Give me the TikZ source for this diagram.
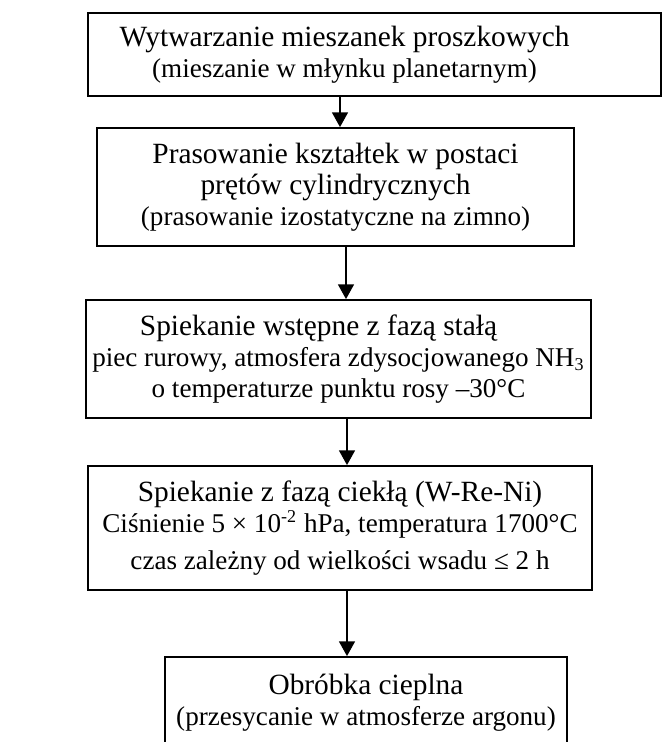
\documentclass[tikz,border=0pt]{standalone}
\usepackage{fontspec}
\setmainfont{Liberation Serif}
\usetikzlibrary{arrows.meta}
\newdimen\pxu \pxu=0.4427pt
\newcommand{\stagehead}[1]{{\fontsize{13}{13.8}\selectfont #1}}
\tikzset{
  stage/.style={draw, line width=0.8pt, inner sep=0pt, align=center, font=\fontsize{12}{13.8}\selectfont},
  flow/.style={line width=0.8pt, -{Triangle[length=6.5pt,width=7pt]}}
}

\begin{document}
\begin{tikzpicture}[x=\pxu, y=-\pxu]
\useasboundingbox (0,0) rectangle (662,742);
\node[stage, minimum width=573\pxu, minimum height=83\pxu] (mix) at (374.5,54.5)
  {\hspace*{-60\pxu}\stagehead{Wytwarzanie mieszanek proszkowych}\\
   \hspace*{-60\pxu}(mieszanie w młynku planetarnym)};
\node[stage, minimum width=477\pxu, minimum height=118\pxu] (press) at (335.5,187)
  {\stagehead{Prasowanie kształtek w postaci}\\\stagehead{prętów cylindrycznych}\\
   (prasowanie izostatyczne na zimno)};
\node[stage, minimum width=505\pxu, minimum height=118\pxu] (presinter) at (338.5,359)
  {\hspace*{-40\pxu}\stagehead{Spiekanie wstępne z fazą stałą}\\
   piec rurowy, atmosfera zdysocjowanego NH\textsubscript{3}\\
   o temperaturze punktu rosy –30°C};
\node[stage, minimum width=504\pxu, minimum height=124\pxu] (liqsinter) at (340,528)
  {\stagehead{Spiekanie z fazą ciekłą (W-Re-Ni)}\\
   Ciśnienie 5 × 10\textsuperscript{-2} hPa, temperatura 1700°C\\[2.5pt]
   czas zależny od wielkości wsadu ≤ 2 h};
\node[stage, minimum width=402\pxu, minimum height=91\pxu] (heat) at (366,702.5)
  {\stagehead{Obróbka cieplna}\\(przesycanie w atmosferze argonu)};

\coordinate (a1) at (340,0);
\coordinate (a2) at (346,0);
\coordinate (a3) at (347,0);
\draw[flow] (mix.south -| a1) -- (press.north -| a1);
\draw[flow] (press.south -| a2) -- (presinter.north -| a2);
\draw[flow] (presinter.south -| a3) -- (liqsinter.north -| a3);
\draw[flow] (liqsinter.south -| a3) -- (heat.north -| a3);
\end{tikzpicture}
\end{document}
